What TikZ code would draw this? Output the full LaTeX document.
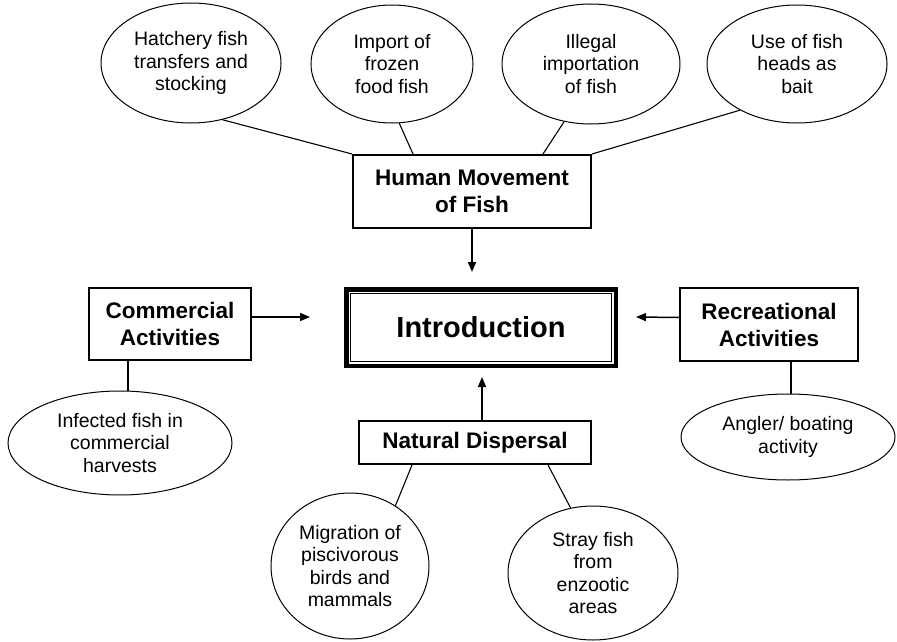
\documentclass[tikz,border=0pt]{standalone}
\usepackage{fontspec}
\setmainfont{Liberation Sans}
\usetikzlibrary{shapes.geometric,arrows.meta}
\begin{document}
\begin{tikzpicture}[x=1pt,y=-1pt,
  ell/.style={draw,ellipse,inner sep=0pt,line width=1pt,align=center,font=\fontsize{19.5}{22.5}\selectfont},
  box/.style={draw,rectangle,inner sep=0pt,line width=2pt,align=center,font=\fontsize{22.5}{27}\selectfont\bfseries},
  conn/.style={line width=1.1pt},
  arr/.style={line width=1.5pt,-{Triangle[length=10pt,width=8pt]}}]
\useasboundingbox (0,0) rectangle (897,642);

% top ellipses
\node[ell,minimum width=180pt,minimum height=120pt] (hatch) at (191,63) {Hatchery fish\\transfers and\\stocking};
\node[ell,minimum width=162pt,minimum height=118pt] (imp) at (392,64) {Import of\\frozen\\food fish};
\node[ell,minimum width=178pt,minimum height=120pt] (ill) at (591,64) {Illegal\\importation\\of fish};
\node[ell,minimum width=180pt,minimum height=118pt] (use) at (797,64) {Use of fish\\heads as\\bait};

% boxes
\node[box,minimum width=238pt,minimum height=73pt] (hm) at (472,191.5) {Human Movement\\of Fish};
\node[box,minimum width=162pt,minimum height=72pt] (com) at (170,324) {Commercial\\Activities};
\node[box,minimum width=178pt,minimum height=73pt] (rec) at (769,324.5) {Recreational\\Activities};
\node[box,minimum width=232pt,minimum height=43pt] (nd) at (475,442.5) {Natural Dispersal};

% introduction (double frame)
\node[draw,rectangle,inner sep=0pt,line width=4.5pt,minimum width=269.5pt,minimum height=76.5pt,
      font=\fontsize{29}{34}\selectfont\bfseries] (intro) at (481,327.5) {Introduction};
\node[draw,rectangle,inner sep=0pt,line width=1.3pt,minimum width=260.5pt,minimum height=67.5pt] (introin) at (481,327.5) {};

% lower ellipses
\node[ell,minimum width=224pt,minimum height=104pt] (ce) at (120,443) {Infected fish in\\commercial\\harvests};
\node[ell,minimum width=214pt,minimum height=86pt] (re) at (788,437) {Angler/ boating\\activity};
\node[ell,minimum width=158pt,minimum height=146pt] (mig) at (350,566) {Migration of\\piscivorous\\birds and\\mammals};
\node[ell,minimum width=170pt,minimum height=134pt] (stray) at (593,573) {Stray fish\\from\\enzootic\\areas};

% connectors
\draw[conn] (hatch.-61) -- (hm.north west);
\draw[conn] (imp.-83) -- ([xshift=61pt]hm.north west);
\draw[conn] (ill.-115) -- ([xshift=191pt]hm.north west);
\draw[conn] (use.-141) -- (hm.north east);
\draw[conn] ([xshift=54pt]nd.south west) -- (mig.53);
\draw[conn] ([xshift=190pt]nd.south west) -- (stray.109);
\coordinate (cl) at ([xshift=-42pt]com.south);
\draw[conn] (cl) -- (cl |- ce.north);
\coordinate (rl) at ([xshift=22pt]rec.south);
\draw[conn] (rl) -- (rl |- re.north);

% arrows
\coordinate (t1) at (472,272);
\coordinate (t2) at (310,317);
\coordinate (t3) at (636,317);
\coordinate (t4) at (482,377);
\draw[arr] (hm.south) -- (t1);
\draw[arr] ([yshift=7pt]com.east) -- (t2);
\draw[arr] ([yshift=7pt]rec.west) -- (t3);
\draw[arr] ([xshift=7pt]nd.north) -- (t4);
\end{tikzpicture}
\end{document}
